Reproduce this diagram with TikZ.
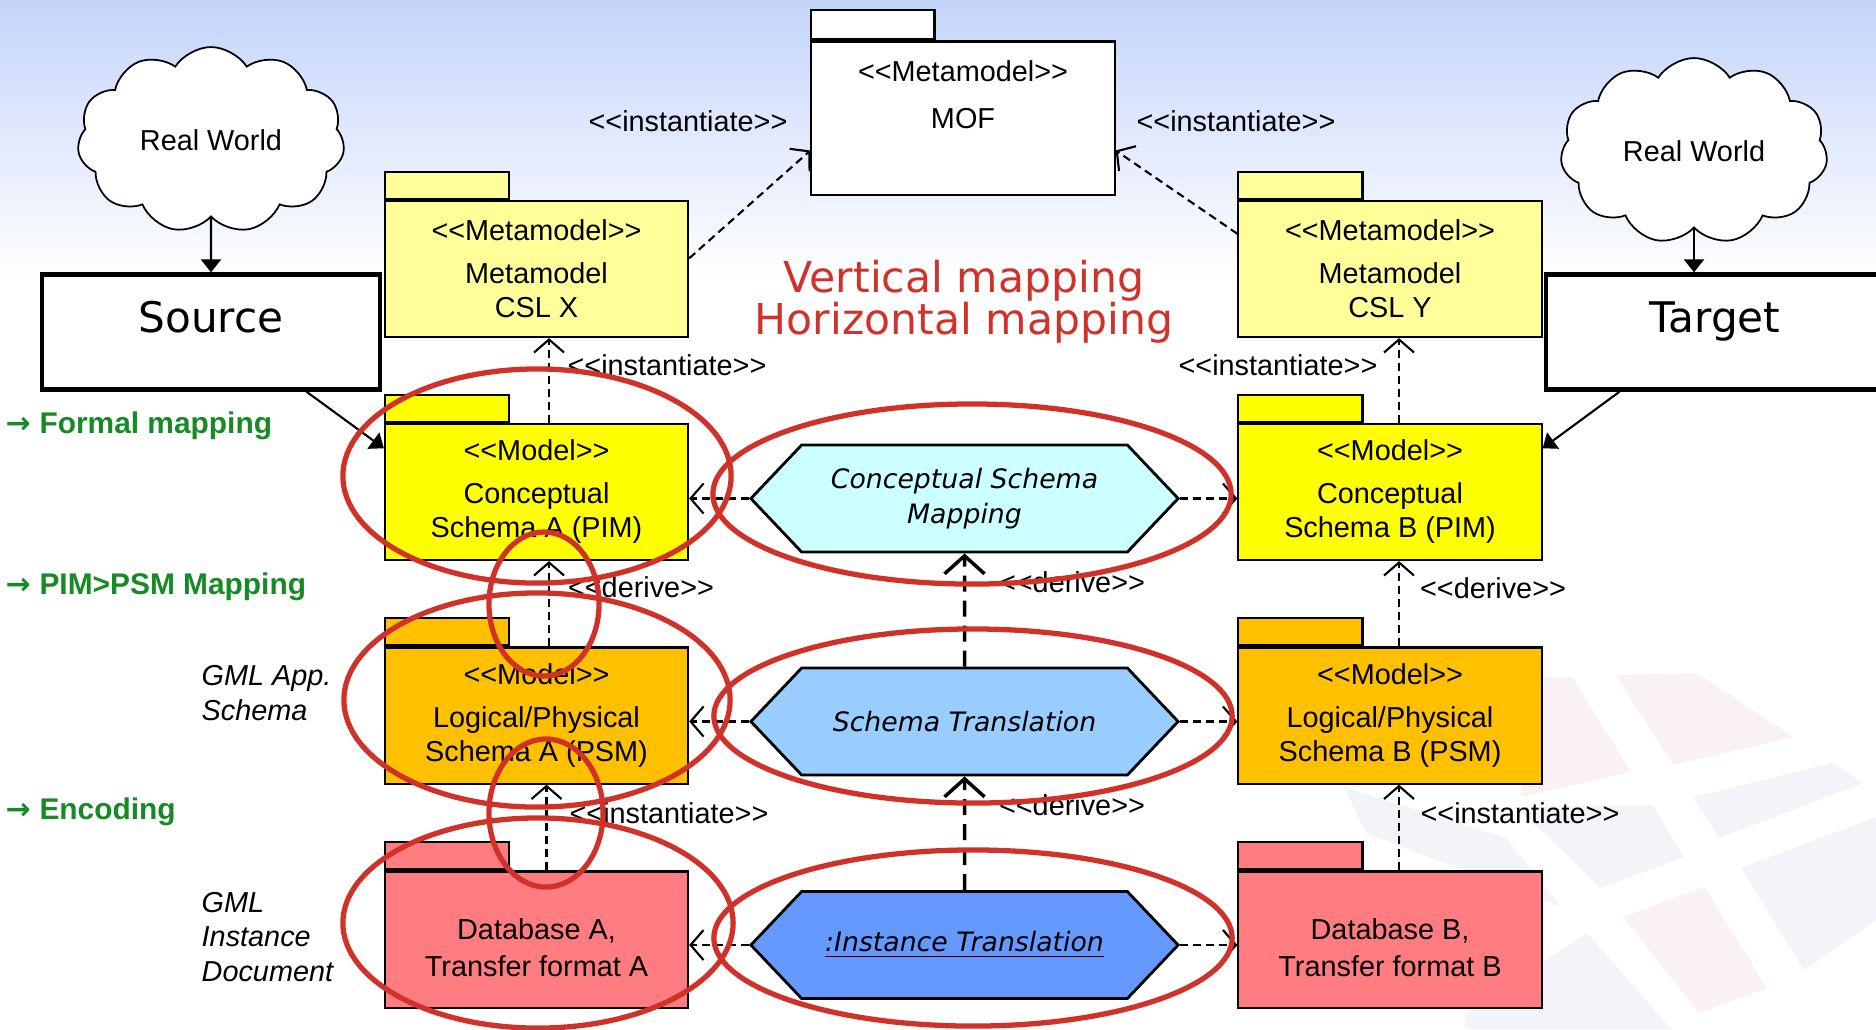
\documentclass[tikz,border=0pt]{standalone}
\usepackage{fontspec}
\setmainfont{Liberation Sans}
\newfontfamily\dejavu{DejaVu Sans}
\usetikzlibrary{shapes.symbols, arrows.meta}

\definecolor{bgblue}{RGB}{196,212,250}
\definecolor{metayellow}{RGB}{255,255,153}
\definecolor{pimyellow}{RGB}{255,255,0}
\definecolor{psmorange}{RGB}{255,192,0}
\definecolor{dbred}{RGB}{255,124,128}
\definecolor{hexcyan}{RGB}{204,255,255}
\definecolor{hexblue}{RGB}{153,204,255}
\definecolor{hexdeep}{RGB}{102,153,255}
\definecolor{ringred}{RGB}{208,50,42}
\definecolor{notegreen}{RGB}{22,138,36}
\definecolor{markpink}{RGB}{250,242,242}
\definecolor{markblue}{RGB}{243,243,250}

\newcommand{\boxfont}{\fontsize{8.2}{9.7}\selectfont}
\newcommand{\hexfont}{\dejavu\itshape\fontsize{7.6}{10}\selectfont}
\newcommand{\stereo}[1]{<\kern0pt<#1>\kern0pt>}
\newcommand{\lvlarrow}{{\dejavu\fontsize{8.5}{10}\selectfont →}\kern2.5pt}

\tikzstyle{pkg}=[rectangle, draw, line width=0.6pt, minimum width=3.03cm, minimum height=1.36cm, inner sep=0pt, align=center, font=\boxfont]
\tikzstyle{tab}=[rectangle, draw, line width=0.6pt, minimum width=1.24cm, minimum height=0.27cm, inner sep=0pt, anchor=south west]
\tikzstyle{hexa}=[signal, signal to=west and east, signal pointer angle=93, draw, line width=0.8pt, minimum width=4.27cm, minimum height=1.07cm, inner sep=0pt, align=center, font=\hexfont]
\tikzstyle{cloudy}=[cloud, cloud puffs=11, cloud puff arc=115, aspect=1.5, draw, fill=white, line width=0.5pt, minimum width=2.67cm, minimum height=1.8cm, font=\boxfont]
\tikzstyle{endbox}=[rectangle, draw, line width=1.2pt, fill=white, minimum width=3.38cm, minimum height=1.15cm, text depth=0.3cm, font=\dejavu\fontsize{12}{14}\selectfont]
\tikzstyle{note}=[inner sep=0pt, font=\boxfont]
\tikzstyle{side}=[inner sep=0pt, anchor=west, align=left, font=\itshape\boxfont]
\tikzstyle{level}=[inner sep=0pt, anchor=west, text=notegreen, font=\bfseries\fontsize{8.5}{10}\selectfont]
\tikzstyle{dep}=[line width=0.6pt, dash pattern=on 0.08cm off 0.05cm, -{Straight Barb[length=0.13cm, width=0.3cm]}]
\tikzstyle{deriv}=[line width=1pt, dash pattern=on 0.16cm off 0.09cm, -{Straight Barb[length=0.18cm, width=0.4cm]}]
\tikzstyle{flow}=[line width=0.6pt, -{Triangle[length=0.13cm, width=0.2cm]}]
\tikzstyle{ring}=[draw=ringred, line width=1.5pt]

\begin{document}
\begin{tikzpicture}[x=0.01cm, y=-0.01cm]
\useasboundingbox (0,0) rectangle (1876,1029);
\fill[top color=bgblue, bottom color=white] (0,0) rectangle (1876,280);

% faint logo in the corner
\fill[markpink] (1521,677) -- (1572,677) -- (1631,772) -- (1521,797) -- cycle;
\fill[markpink] (1616,675) -- (1697,673) -- (1793,737) -- (1673,765) -- cycle;
\fill[markpink] (1623,917) -- (1704,887) -- (1767,988) -- (1699,1013) -- cycle;
\fill[markblue] (1344,787) -- (1506,838) -- (1561,907) -- (1366,833) -- cycle;
\fill[markblue] (1517,807) -- (1653,805) -- (1684,857) -- (1600,888) -- cycle;
\fill[markblue] (1693,797) -- (1833,763) -- (1863,783) -- (1719,838) -- cycle;
\fill[markblue] (1741,868) -- (1876,817) -- (1876,920) -- (1804,970) -- cycle;
\fill[markblue] (1465,1013) -- (1587,933) -- (1671,1029) -- (1465,1029) -- cycle;

% real world and the two ends
\node[cloudy] (worldA) at (211,140) {Real World};
\node[cloudy] (worldB) at (1694,151) {Real World};
\node[endbox] (source) at (211,332) {Source};
\node[endbox] (target) at (1715,332) {Target};

% metamodels
\node[pkg, fill=white, minimum height=1.53cm, font=\fontsize{8.2}{13.4}\selectfont] (mof) at (963,118) {\stereo{Metamodel}\\MOF\\\mbox{}};
\node[tab, fill=white, minimum width=1.23cm, minimum height=0.29cm] (moftab) at (mof.north west) {};
\node[pkg, fill=metayellow] (cslx) at (536.5,269) {\stereo{Metamodel}\\[2.5pt]Metamodel\\CSL X};
\node[tab, fill=metayellow] (cslxtab) at (cslx.north west) {};
\node[pkg, fill=metayellow] (csly) at (1390,269) {\stereo{Metamodel}\\[2.5pt]Metamodel\\CSL Y};
\node[tab, fill=metayellow] (cslytab) at (csly.north west) {};

% models
\node[pkg, fill=pimyellow] (csa) at (536.5,492) {\stereo{Model}\\[2.5pt]Conceptual\\Schema A (PIM)};
\node[tab, fill=pimyellow] (csatab) at (csa.north west) {};
\node[pkg, fill=pimyellow] (csb) at (1390,492) {\stereo{Model}\\[2.5pt]Conceptual\\Schema B (PIM)};
\node[tab, fill=pimyellow] (csbtab) at (csb.north west) {};
\node[pkg, fill=psmorange] (lpa) at (536.5,715.5) {\stereo{Model}\\[2.5pt]Logical/Physical\\Schema A (PSM)};
\node[tab, fill=psmorange] (lpatab) at (lpa.north west) {};
\node[pkg, fill=psmorange] (lpb) at (1390,715.5) {\stereo{Model}\\[2.5pt]Logical/Physical\\Schema B (PSM)};
\node[tab, fill=psmorange] (lpbtab) at (lpb.north west) {};
\node[pkg, fill=dbred, font=\fontsize{8.2}{10.5}\selectfont] (dba) at (536.5,939.5) {\mbox{}\\Database A,\\Transfer format A};
\node[tab, fill=dbred] (dbatab) at (dba.north west) {};
\node[pkg, fill=dbred, font=\fontsize{8.2}{10.5}\selectfont] (dbb) at (1390,939.5) {\mbox{}\\Database B,\\Transfer format B};
\node[tab, fill=dbred] (dbbtab) at (dbb.north west) {};

% mappings
\node[hexa, fill=hexcyan] (csm) at (964.5,498.5) {Conceptual Schema\\Mapping};
\node[hexa, fill=hexblue] (schtr) at (964.5,721.5) {Schema Translation};
\node[hexa, fill=hexdeep] (insttr) at (964.5,945) {\underline{:Instance Translation}};

% texts
\node[align=center, inner sep=0pt, text=ringred, font=\dejavu\fontsize{12.1}{12}\selectfont] (title) at (964,302) {Vertical mapping\\Horizontal mapping};
\node[level] (formal) at (5,426) {\lvlarrow Formal mapping};
\node[level] (pimpsm) at (5,587) {\lvlarrow PIM>PSM Mapping};
\node[level] (encode) at (5,812) {\lvlarrow Encoding};
\node[side] (gmlapp) at (201,693) {GML App.\\Schema};
\node[side] (gmlinst) at (201,937) {GML\\Instance\\Document};
\node[note] (inst1) at (688,121) {\stereo{instantiate}};
\node[note] (inst2) at (1236,121) {\stereo{instantiate}};
\node[note] (inst3) at (667,365) {\stereo{instantiate}};
\node[note] (inst4) at (1278,365) {\stereo{instantiate}};
\node[note] (der1) at (641,587) {\stereo{derive}};
\node[note] (der2) at (1072,582) {\stereo{derive}};
\node[note] (der3) at (1493,588) {\stereo{derive}};
\node[note] (inst5) at (669,813) {\stereo{instantiate}};
\node[note] (der4) at (1072,805) {\stereo{derive}};
\node[note] (inst6) at (1520,813) {\stereo{instantiate}};

% connectors
\draw[flow] (worldA) -- (source);
\draw[flow] (worldB.south) -- (worldB.south |- target.north);
\draw[flow] (source.-32) -- (csa.164);
\draw[flow] (target.212) -- (csb.16);
\draw[dep] (cslx.4) -- (mof.192);
\draw[dep] (csly.167) -- (mof.-12);
\draw[dep] ([xshift=0.125cm]csa.north) -- ([xshift=0.125cm]cslx.south);
\draw[dep] ([xshift=0.125cm]lpa.north) -- ([xshift=0.125cm]csa.south);
\draw[dep] ([xshift=0.1cm]dba.north) -- ([xshift=0.1cm]lpa.south);
\draw[dep] ([xshift=0.09cm]csb.north) -- ([xshift=0.09cm]csly.south);
\draw[dep] ([xshift=0.09cm]lpb.north) -- ([xshift=0.09cm]csb.south);
\draw[dep] ([xshift=0.09cm]dbb.north) -- ([xshift=0.09cm]lpb.south);
\draw[deriv] (schtr) -- (csm);
\draw[deriv] (insttr) -- (schtr);
\draw[dep] (csm.west) -- (csm.west -| csa.east);
\draw[dep] (csm.east) -- (csm.east -| csb.west);
\draw[dep] (schtr.west) -- (schtr.west -| lpa.east);
\draw[dep] (schtr.east) -- (schtr.east -| lpb.west);
\draw[dep] (insttr.west) -- (insttr.west -| dba.east);
\draw[dep] (insttr.east) -- (insttr.east -| dbb.west);

% red marks
\draw[ring] (537,476) ellipse [x radius=1.94cm, y radius=1.07cm];
\draw[ring] (537,700) ellipse [x radius=1.93cm, y radius=1.07cm];
\draw[ring] (538,923) ellipse [x radius=1.95cm, y radius=1.05cm];
\draw[ring] (544,604) ellipse [x radius=0.55cm, y radius=0.72cm];
\draw[ring] (546,813) ellipse [x radius=0.57cm, y radius=0.74cm];
\draw[ring] (972,494) ellipse [x radius=2.59cm, y radius=0.9cm];
\draw[ring] (973,716) ellipse [x radius=2.59cm, y radius=0.87cm];
\draw[ring] (973,938) ellipse [x radius=2.59cm, y radius=0.88cm];
\end{tikzpicture}
\end{document}
